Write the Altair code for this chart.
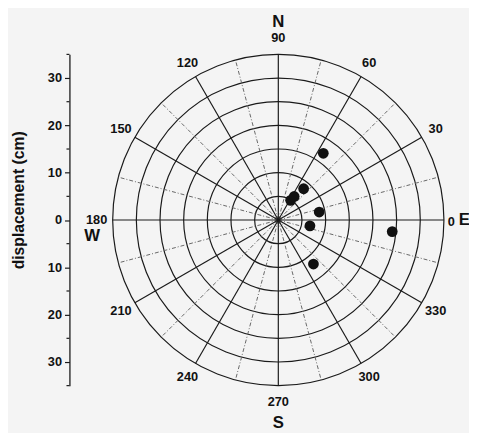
import altair as alt
import pandas as pd

# ---- data ----
point_angle = [56, 51, 58, 56, 11, 349.5, 308.6, 354.2]      # degrees
point_radius = [17.0, 8.5, 4.9, 6.0, 8.8, 6.8, 11.9, 24.2]    # cm

ring_radius = [5, 10, 15, 20, 25, 30, 35]
spoke_angles = list(range(0, 360, 15))
label_angles = [30, 60, 90, 120, 150, 180, 210, 240, 270, 300, 330]
zero_label = [0]
compass_text = ["N", "E", "S", "W"]
compass_angle = [90, 0, 270, 185]
compass_radius = [41.9, 39.3, 42.9, 39.5]
major_ticks = [-30, -20, -10, 0, 10, 20, 30]
minor_ticks = [-35, -25, -15, -5, 5, 15, 25, 35]

R_MAX = 35
W = H = 337
FONT = "Liberation Sans"
INK = "#1a1a1a"
AXIS_OFFSET = 44

xs = alt.Scale(domain=[-R_MAX, R_MAX], nice=False, zero=False)
ys = alt.Scale(domain=[-R_MAX, R_MAX], nice=False, zero=False)

points_df = pd.DataFrame({"angle": point_angle, "r": point_radius})
rings_df = pd.DataFrame({"r": ring_radius})
spokes_df = pd.DataFrame({"angle": spoke_angles})
labels_df = pd.DataFrame({"angle": label_angles})
zero_df = pd.DataFrame({"angle": zero_label})
compass_df = pd.DataFrame({"t": compass_text, "angle": compass_angle, "r": compass_radius})
minor_df = pd.DataFrame({"v": minor_ticks})

COS = "cos(datum.angle * PI / 180)"
SIN = "sin(datum.angle * PI / 180)"

yaxis = alt.Axis(
    values=major_ticks,
    labelExpr="abs(datum.value)",
    labelOverlap=False,
    tickSize=5,
    offset=AXIS_OFFSET, grid=False,
    domainColor=INK, domainWidth=1.3, tickColor=INK, tickWidth=1.2,
    labelFont=FONT, labelFontSize=13, labelFontWeight="bold", labelColor="#111111", labelPadding=3,
    title="displacement (cm)", titleFont=FONT, titleFontSize=16, titleFontWeight="bold",
    titleColor="#111111", titleAngle=-90, titleX=-51.5, titleY=148,
    titleAlign="center", titleBaseline="middle",
)


def Y(field):
    return alt.Y(field, scale=ys, axis=yaxis)


def X(field):
    return alt.X(field, scale=xs, axis=None)


points = alt.Chart(points_df).transform_calculate(
    px=f"datum.r * {COS}", py=f"datum.r * {SIN}"
).mark_circle(size=120, color="#111111", opacity=1).encode(
    x=X("px:Q"), y=Y("py:Q"),
)

# rings drawn as hollow circle symbols whose diameter follows the radius scale
rings = alt.Chart(rings_df).transform_calculate(cx="0", cy="0").mark_point(
    shape="circle", filled=False, stroke=INK, strokeWidth=1.2, opacity=1
).encode(
    x=X("cx:Q"), y=Y("cy:Q"),
    size=alt.Size("r:Q", scale=alt.Scale(type="pow", exponent=2, domain=[0, R_MAX], range=[0, W * W]), legend=None),
)

spoke_base = alt.Chart(spokes_df).transform_calculate(
    x0="0", y0="0",
    x1=f"{R_MAX} * {COS}", y1=f"{R_MAX} * {SIN}",
)
spokes_solid = spoke_base.transform_filter("datum.angle % 30 == 0").mark_rule(
    color=INK, strokeWidth=1.2
).encode(x=X("x0:Q"), y=Y("y0:Q"), x2="x1:Q", y2="y1:Q")
spokes_dash = spoke_base.transform_filter("datum.angle % 30 != 0").mark_rule(
    color="#666666", strokeWidth=1, strokeDash=[4, 2, 1, 2]
).encode(x=X("x0:Q"), y=Y("y0:Q"), x2="x1:Q", y2="y1:Q")

# minor ticks of the displacement axis (every 5 cm)
minor = alt.Chart(minor_df).mark_tick(
    orient="horizontal", size=3, thickness=1.2, color=INK, opacity=1
).encode(
    x=alt.value(-AXIS_OFFSET - 1.5), y=Y("v:Q"),
)

angle_labels = alt.Chart(labels_df).transform_calculate(
    tx=f"38.4 * {COS}", ty=f"38.4 * {SIN}"
).mark_text(font=FONT, fontSize=13, fontWeight="bold", color="#111111", align="center", baseline="middle").encode(
    x=X("tx:Q"), y=Y("ty:Q"), text="angle:Q",
)

zero_lab = alt.Chart(zero_df).transform_calculate(
    tx=f"35.8 * {COS}", ty=f"-0.4 + 35.8 * {SIN}"
).mark_text(font=FONT, fontSize=13, fontWeight="bold", color="#111111", align="left", baseline="middle").encode(
    x=X("tx:Q"), y=Y("ty:Q"), text="angle:Q",
)

compass = alt.Chart(compass_df).transform_calculate(
    tx=f"datum.r * {COS}", ty=f"datum.r * {SIN}"
).mark_text(font=FONT, fontSize=17, fontWeight="bold", color="#111111", align="center", baseline="middle").encode(
    x=X("tx:Q"), y=Y("ty:Q"), text="t:N",
)

chart = alt.layer(
    rings, spokes_dash, spokes_solid, points, minor, angle_labels, zero_lab, compass
).properties(
    width=W, height=H,
    autosize=alt.AutoSizeParams(type="none"),
    padding={"left": 106.5, "top": 43.5, "right": 25.5, "bottom": 44.5},
    background="#f4f4f4",
).configure_view(stroke=None)

chart.save("out.html", embed_options={"renderer": "svg", "actions": False})
